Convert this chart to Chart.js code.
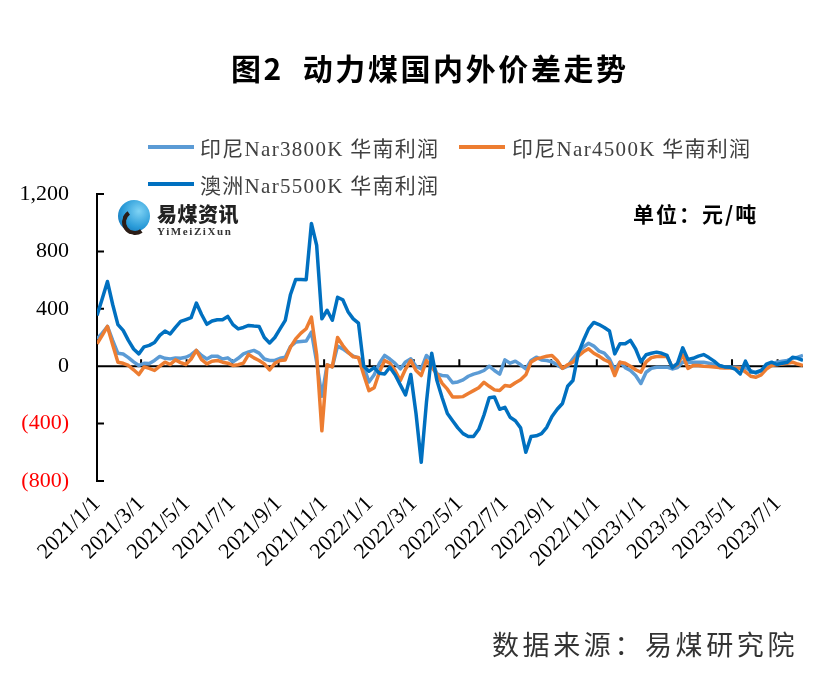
<!DOCTYPE html>
<html>
<head>
<meta charset="utf-8">
<script src="https://cdn.jsdelivr.net/npm/chart.js@4"></script>
<style>
  body { margin: 0; background: #fff; }
  #wrap { position: relative; width: 832px; height: 692px; overflow: hidden; }
  #myChart { position: absolute; left: 0; top: 0; }
  .txt { position: absolute; white-space: nowrap; }
  .title { left: 231px; top: 45px; font: bold 30px "Noto Sans CJK SC"; letter-spacing: 2.6px; color: #000; }
  .leg { font: 21px "Liberation Serif", "Noto Sans CJK SC"; letter-spacing: 1.3px; color: #404040; }
  .legline { position: absolute; height: 4px; width: 46px; }
  .unit { left: 633px; top: 198px; font: bold 21px "Noto Sans CJK SC"; letter-spacing: 2px; color: #000; }
  .source { left: 492px; top: 624px; font: 27px "Noto Sans CJK SC"; letter-spacing: 3.6px; color: #333; }
  .logo-c { position: absolute; left: 118px; top: 200px; width: 32px; height: 32px; border-radius: 50%;
    background: radial-gradient(circle at 65% 35%, #7fd3f5 0%, #2a9bd8 55%, #0b62a8 100%); }
  .logo-c::after { content: ""; position: absolute; left: 4px; top: 9px; width: 18px; height: 18px; border-radius: 50%;
    border: 4px solid #2b1d17; border-right-color: transparent; border-top-color: transparent; transform: rotate(10deg); }
  .logo1 { left: 157px; top: 199px; font: 900 20px "Noto Sans CJK SC"; color: #222; letter-spacing: 0.5px; }
  .logo2 { left: 157px; top: 225px; font: bold 11px "Liberation Serif"; color: #333; letter-spacing: 1.6px; }
</style>
</head>
<body>
<div id="wrap">
  <canvas id="myChart" width="832" height="692"></canvas>
  <div class="txt title">图2&nbsp;&nbsp;动力煤国内外价差走势</div>

  <div class="legline" style="left:148px; top:145px; background:#5B9BD5"></div>
  <div class="txt leg" style="left:200px; top:132px">印尼Nar3800K 华南利润</div>
  <div class="legline" style="left:459px; top:145px; background:#ED7D31"></div>
  <div class="txt leg" style="left:512px; top:132px">印尼Nar4500K 华南利润</div>
  <div class="legline" style="left:148px; top:182px; background:#0070C0"></div>
  <div class="txt leg" style="left:200px; top:169px">澳洲Nar5500K 华南利润</div>

  <div class="logo-c"></div>
  <div class="txt logo1">易煤资讯</div>
  <div class="txt logo2">YiMeiZiXun</div>

  <div class="txt unit">单位：元/吨</div>
  <div class="txt source">数据来源：易煤研究院</div>
</div>

<script>
// weekly series, first week 2021/1/1
const startDate = '2021/1/1';
const tickLabels = ['2021/1/1', '2021/3/1', '2021/5/1', '2021/7/1', '2021/9/1', '2021/11/1',
  '2022/1/1', '2022/3/1', '2022/5/1', '2022/7/1', '2022/9/1', '2022/11/1',
  '2023/1/1', '2023/3/1', '2023/5/1', '2023/7/1'];

const indo3800 = [190, 230, 277, 180, 90, 85, 60, 30, 5, 20, 18, 40, 68, 55, 51, 58, 55, 62, 80, 110,
  75, 50, 70, 70, 50, 58, 30, 55, 86, 100, 110, 91, 50, 40, 40, 55, 63, 137, 168, 172,
  175, 238, 30, -210, 10, -5, 140, 121, 95, 70, 58, 0, -110, -60, 20, 75, 50, 20, -19, 30,
  51, 0, -19, 75, 40, -54, -65, -68, -115, -110, -95, -70, -55, -45, -30, 0, -30, -55, 44, 21,
  35, 10, -19, 40, 63, 44, 40, 30, 10, -15, 0, 51, 98, 133, 160, 140, 105, 91, 50, -26,
  28, -10, -30, -65, -120, -42, -15, -7, -7, -7, -19, -10, 30, 25, 28, 28, 28, 20, 12, 5,
  -7, -7, -7, -10, -12, -30, -49, -30, -7, 10, 28, 35, 40, 55, 63, 75];

const indo4500 = [156, 215, 277, 150, 28, 20, 5, -25, -58, -5, -15, -30, 0, 28, 12, 44, 25, 12, 50, 110,
  45, 16, 35, 40, 28, 21, 5, 10, 21, 82, 58, 40, 16, -26, 20, 40, 44, 133, 190, 230,
  261, 342, 80, -450, 10, -5, 200, 144, 98, 65, 60, -60, -170, -150, -40, 40, 20, -30, -100, -20,
  40, -30, -65, 40, -7, -54, -120, -160, -215, -215, -212, -190, -170, -150, -112, -140, -165, -170, -135, -140,
  -115, -95, -60, 30, 51, 60, 70, 75, 40, -15, 10, 28, 70, 100, 121, 90, 70, 45, 28, -65,
  28, 20, 0, -25, -42, 30, 60, 68, 68, 68, -7, 10, 80, -15, 5, 5, 0, -2, -5, -10,
  -12, -12, -12, -15, -40, -70, -77, -60, -20, 5, 10, 16, 20, 28, 15, 5];

const aus5500 = [354, 470, 590, 430, 290, 250, 180, 120, 86, 135, 145, 165, 215, 245, 225, 270, 312, 325, 338, 440,
  360, 292, 315, 324, 324, 347, 290, 260, 270, 284, 280, 277, 200, 162, 200, 260, 319, 500, 605, 605,
  603, 995, 843, 330, 390, 320, 480, 463, 380, 330, 300, 0, -35, -10, -49, -54, -7, -60, -130, -200,
  -58, -330, -670, -250, 91, -100, -220, -330, -380, -430, -470, -490, -490, -440, -340, -220, -215, -300, -287, -356,
  -380, -430, -600, -490, -485, -470, -426, -350, -300, -260, -140, -100, 86, 179, 260, 305, 290, 270, 245, 86,
  156, 156, 180, 120, 30, 80, 90, 98, 90, 75, -10, 20, 128, 47, 55, 70, 81, 60, 35, 5,
  -5, -7, -20, -54, 35, -40, -42, -30, 15, 28, 12, 20, 28, 63, 55, 40];

function dayOf(s) {
  const p = s.split('/').map(Number);
  const s0 = startDate.split('/').map(Number);
  return (Date.UTC(p[0], p[1] - 1, p[2]) - Date.UTC(s0[0], s0[1] - 1, s0[2])) / 86400000;
}
const tickDays = tickLabels.map(dayOf);

function toPoints(arr) {
  return arr.map((v, i) => ({ x: i * 7, y: v }));
}

// zero line with upward ticks, y axis inward ticks
const axisMarks = {
  id: 'axisMarks',
  beforeDatasetsDraw(chart) {
    const { ctx, chartArea, scales } = chart;
    const x = scales.x, y = scales.y;
    const y0 = y.getPixelForValue(0);
    ctx.save();
    ctx.strokeStyle = '#000';
    ctx.lineWidth = 2;
    ctx.beginPath();
    ctx.moveTo(chartArea.left, y0);
    ctx.lineTo(chartArea.right, y0);
    tickDays.forEach(d => {
      const px = x.getPixelForValue(d);
      ctx.moveTo(px, y0);
      ctx.lineTo(px, y0 - 7);
    });
    y.ticks.forEach(t => {
      const py = y.getPixelForValue(t.value);
      ctx.moveTo(chartArea.left, py);
      ctx.lineTo(chartArea.left + 7, py);
    });
    ctx.stroke();
    ctx.restore();
  }
};

const ctx = document.getElementById('myChart');
const chart = new Chart(ctx, {
  type: 'line',
  data: {
    datasets: [
      { label: '澳洲Nar5500K 华南利润', data: toPoints(aus5500), borderColor: '#0070C0', borderWidth: 3.5 },
      { label: '印尼Nar4500K 华南利润', data: toPoints(indo4500), borderColor: '#ED7D31', borderWidth: 3.5 },
      { label: '印尼Nar3800K 华南利润', data: toPoints(indo3800), borderColor: '#5B9BD5', borderWidth: 3.5 }
    ]
  },
  options: {
    responsive: false,
    animation: false,
    elements: { point: { radius: 0 }, line: { tension: 0, borderJoinStyle: 'round' } },
    layout: { padding: { top: 194, right: 29, bottom: 0, left: 0 } },
    plugins: {
      legend: { display: false },
      tooltip: { enabled: false }
    },
    scales: {
      x: {
        type: 'linear',
        min: 0,
        max: 945,
        afterFit: s => { s.height = 211; },
        afterBuildTicks: axis => { axis.ticks = tickDays.map(v => ({ value: v })); },
        grid: { display: false },
        border: { display: false },
        ticks: {
          autoSkip: false,
          minRotation: 45,
          maxRotation: 45,
          padding: 2,
          color: '#000',
          font: { family: 'Liberation Serif', size: 22 },
          callback: (v, i) => tickLabels[i]
        }
      },
      y: {
        min: -800,
        max: 1200,
        afterFit: s => { s.width = 97; },
        grid: { display: false },
        border: { display: true, color: '#000', width: 2 },
        ticks: {
          stepSize: 400,
          padding: 20,
          color: c => c.tick.value < 0 ? '#FF0000' : '#000',
          font: { family: 'Liberation Serif', size: 22 },
          callback: v => v < 0 ? '(' + Math.abs(v) + ')' : v.toLocaleString('en-US')
        }
      }
    }
  },
  plugins: [axisMarks]
});
</script>
</body>
</html>
